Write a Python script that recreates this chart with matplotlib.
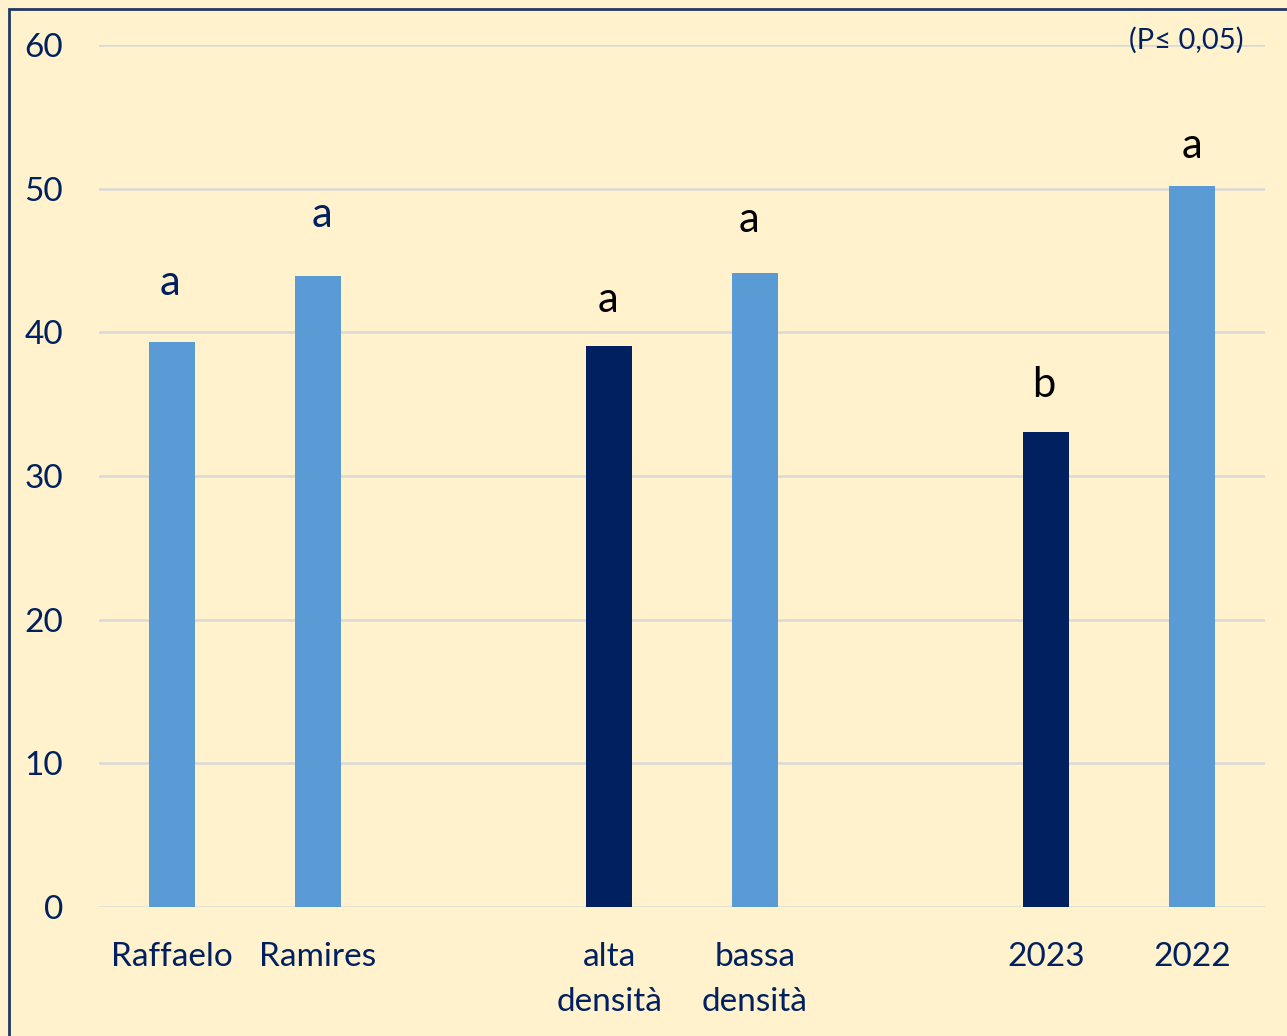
import matplotlib.pyplot as plt
from matplotlib.patches import Rectangle

plt.rcParams['font.family'] = ['Lato', 'DejaVu Sans']

categories = ['Raffaelo', 'Ramires', 'alta\ndensità', 'bassa\ndensità', '2023', '2022']
positions = [0, 1, 3, 4, 6, 7]
values = [39.3, 43.9, 39.05, 44.1, 33.05, 50.2]
bar_colors = ['#5B9BD5', '#5B9BD5', '#002060', '#5B9BD5', '#002060', '#5B9BD5']

# significance letters and where they sit
letters = ['a', 'a', 'a', 'a', 'b', 'a']
letter_x = [-0.01, 1.03, 2.99, 3.96, 5.98, 7.0]
letter_y = [43.4, 48.2, 42.25, 47.8, 36.3, 52.95]
letter_colors = ['#002060', '#002060', 'black', 'black', 'black', 'black']

yticks = [0, 10, 20, 30, 40, 50, 60]

navy = '#002060'
bg = '#FFF2CC'

fig = plt.figure(figsize=(12.87, 10.36), dpi=100)
fig.patch.set_facecolor(bg)
ax = fig.add_axes([99 / 1287, 129 / 1036, (1265 - 99) / 1287, (907 - 45) / 1036])
ax.set_facecolor(bg)

# frame: only top and left edges show, the rest is cut off
fig.patches.append(Rectangle((9 / 1287, -0.05), 1.2, 1.05 - 9 / 1036,
                             transform=fig.transFigure, fill=False,
                             edgecolor='#1F3864', lw=2))

ax.bar(positions, values, width=0.315, color=bar_colors, zorder=3)

for x, y, l, c in zip(letter_x, letter_y, letters, letter_colors):
    ax.text(x, y, l, ha='center', va='center', fontsize=30, color=c)

ax.text(7.35, 60.3, '(P\u2264 0,05)', ha='right', va='center', fontsize=21, color=navy)

ax.set_xlim(-0.5, 7.5)
ax.set_ylim(0, 60)
ax.set_yticks(yticks)
ax.set_xticks(positions)
ax.set_xticklabels(categories, linespacing=1.62)
ax.tick_params(axis='both', length=0, labelsize=24, labelcolor=navy)
ax.tick_params(axis='y', pad=26)
ax.tick_params(axis='x', pad=25)
ax.yaxis.grid(True, color='#D9D9D9', lw=1.8, zorder=0)
ax.set_axisbelow(True)
for s in ax.spines.values():
    s.set_visible(False)

fig.savefig('out.png', dpi=100, facecolor=bg)
